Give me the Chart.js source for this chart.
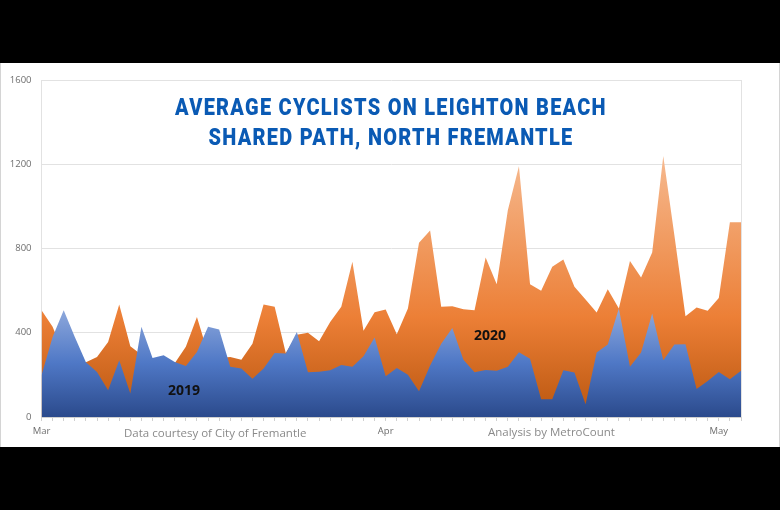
<!DOCTYPE html>
<html>
<head>
<meta charset="utf-8">
<script src="https://cdn.jsdelivr.net/npm/chart.js@4"></script>
<style>
  html, body { margin: 0; padding: 0; background: #000; width: 780px; height: 510px; overflow: hidden; }
  #panel { position: absolute; left: 0; top: 63px; width: 778px; height: 384px; background: #fff; border-left: 1px solid #d4d4d4; border-right: 1px solid #d4d4d4; }
  canvas { position: absolute; left: 0; top: 0; }
  .note { position: absolute; white-space: nowrap; font-family: "Open Sans", sans-serif; }
  #title { left: 41px; width: 700px; top: 93px; text-align: center; font-family: "Roboto", sans-serif; font-weight: 900; font-size: 24px; line-height: 29.5px; letter-spacing: 1.55px; color: #0a5ab4; transform: scaleX(0.83); }
  .year { font-weight: 700; font-size: 14px; color: #111; }
  .credit { font-size: 11.5px; color: #8a8a8a; }
</style>
</head>
<body>
<div id="panel"></div>
<canvas id="chart" width="780" height="510"></canvas>
<div class="note" id="title">AVERAGE CYCLISTS ON LEIGHTON BEACH<br>SHARED PATH, NORTH FREMANTLE</div>
<div class="note year" style="left:168px;top:380px">2019</div>
<div class="note year" style="left:474px;top:325px">2020</div>
<div class="note credit" style="left:124px;top:425px">Data courtesy of City of Fremantle</div>
<div class="note credit" style="left:488px;top:424px">Analysis by MetroCount</div>
<script>
const y_ticks = [0, 400, 800, 1200, 1600];

// one label per day, only the first of each month is shown
const day_labels = [
  "Mar", "", "", "", "", "", "", "", "", "", "", "", "", "", "", "",
  "", "", "", "", "", "", "", "", "", "", "", "", "", "", "",
  "Apr", "", "", "", "", "", "", "", "", "", "", "", "", "", "", "",
  "", "", "", "", "", "", "", "", "", "", "", "", "", "",
  "May", "", "",
];

const values_2019 = [
  198, 380, 507, 380, 260, 214, 127, 269, 111, 428, 280, 293, 261, 242, 309, 428,
  415, 238, 230, 182, 230, 304, 301, 404, 212, 215, 222, 247, 238, 288, 377,
  193, 233, 201, 122, 245, 348, 423, 272, 212, 223, 220, 238, 307, 277, 84,
  84, 222, 211, 60, 306, 344, 515, 238, 306, 491, 269, 344, 345, 133, 171,
  214, 179, 219,
];

const values_2020 = [
  507, 428, 300, 270, 260, 285, 356, 534, 336, 295, 270, 270, 255, 333, 475, 300,
  280, 285, 272, 348, 534, 523, 304, 390, 400, 360, 451, 523, 737, 409, 497,
  510, 393, 515, 827, 885, 523, 526, 512, 507, 757, 630, 982, 1191, 630, 599,
  713, 748, 618, 558, 496, 607, 515, 741, 662, 781, 1239, 863, 478, 520, 505,
  565, 925, 925,
];

const areaFill = (values, top_colour, mid_colour, bottom_colour, mid_stop) => (context) => {
  const { ctx, scales } = context.chart;
  const top = scales.y ? scales.y.getPixelForValue(Math.max(...values)) : NaN;
  const bottom = scales.y ? scales.y.getPixelForValue(0) : NaN;
  // scales have no pixels yet on the first resolve
  if (!Number.isFinite(top) || !Number.isFinite(bottom)) return mid_colour;
  const gradient = ctx.createLinearGradient(0, top, 0, bottom);
  gradient.addColorStop(0, top_colour);
  gradient.addColorStop(mid_stop, mid_colour);
  gradient.addColorStop(1, bottom_colour);
  return gradient;
};

new Chart(document.getElementById("chart"), {
  type: "line",
  data: {
    labels: day_labels,
    datasets: [
      {
        label: "2019",
        data: values_2019,
        fill: "origin",
        borderWidth: 0,
        pointRadius: 0,
        tension: 0,
        order: 1,
        backgroundColor: areaFill(values_2019, "#8fa9dc", "#4f78c6", "#2b4a8c", 0.5),
      },
      {
        label: "2020",
        data: values_2020,
        fill: "origin",
        borderWidth: 0,
        pointRadius: 0,
        tension: 0,
        order: 2,
        backgroundColor: areaFill(values_2020, "#f6b98f", "#ec7f36", "#b9560f", 0.62),
      },
    ],
  },
  options: {
    responsive: false,
    animation: false,
    layout: { padding: { left: 0, right: 39, top: 80, bottom: 69 } },
    plugins: { legend: { display: false }, tooltip: { enabled: false } },
    scales: {
      x: {
        afterFit: (scale) => { scale.height = 24; },
        border: { color: "#d0d0d0" },
        grid: {
          color: (c) => (c.index === 0 || c.index === day_labels.length - 1 ? "#e2e2e2" : "transparent"),
          tickColor: "#d0d0d0",
          tickLength: 4,
        },
        ticks: {
          autoSkip: false,
          maxRotation: 0,
          padding: 5,
          color: "#6e6e6e",
          font: { family: "Open Sans", size: 9.5 },
        },
      },
      y: {
        min: 0,
        max: 1600,
        afterFit: (scale) => { scale.width = 41.5; },
        afterBuildTicks: (scale) => { scale.ticks = y_ticks.map((value) => ({ value })); },
        border: { display: false },
        grid: { color: "#e2e2e2", drawTicks: false },
        ticks: {
          padding: 10,
          color: "#6e6e6e",
          font: { family: "Open Sans", size: 9.5 },
          callback: (value) => String(value),
        },
      },
    },
  },
});
</script>
</body>
</html>
